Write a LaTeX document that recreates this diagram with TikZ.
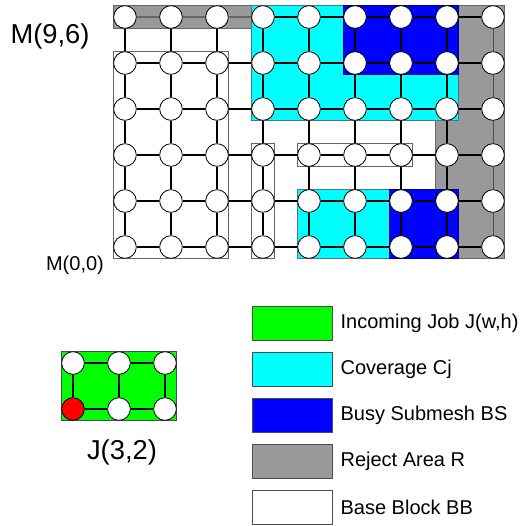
\documentclass[tikz,border=0pt]{standalone}
\usepackage{fontspec}
\setmainfont{Liberation Sans}
\usetikzlibrary{positioning}

\definecolor{rejectgray}{HTML}{999999}
\definecolor{covcyan}{HTML}{00FFFF}
\definecolor{busyblue}{HTML}{0000FF}
\definecolor{jobgreen}{HTML}{00FF00}

\begin{document}
\begin{tikzpicture}[x=34.5pt,y=34.5pt,
    pe/.style={circle,draw,fill=white,minimum size=17pt,inner sep=0pt,line width=0.6pt},
    link/.style={line width=1.9pt},
    area/.style={line width=0.6pt},
    legbox/.style={draw=black!70,line width=0.6pt,minimum width=60pt,minimum height=25.5pt,inner sep=0pt},
    legtext/.style={font=\fontsize{15}{18}\selectfont,inner sep=0pt}]

   \useasboundingbox (-2.717,-6.065) rectangle (8.652,5.370);

   % reject area R
   \filldraw[fill=rejectgray,draw=black!60,area] (6.75,-0.25) rectangle (8.25,5.25);
   \filldraw[fill=rejectgray,draw=black!60,area] (-0.25,4.75) rectangle (2.75,5.25);
   % coverage and busy submeshes
   \filldraw[fill=covcyan,draw=cyan!50!black,area] (2.75,2.75) rectangle (7.25,5.25);
   \filldraw[fill=busyblue,draw=blue!50!black,area] (4.75,3.75) rectangle (7.25,5.25);
   \filldraw[fill=covcyan,draw=cyan!50!black,area] (3.75,-0.25) rectangle (7.25,1.25);
   \filldraw[fill=busyblue,draw=blue!50!black,area] (5.75,-0.25) rectangle (7.25,1.25);
   % base blocks
   \filldraw[fill=white,draw=black!60,area] (-0.25,-0.25) rectangle (2.25,4.25);
   \filldraw[fill=white,draw=black!60,area] (2.75,-0.25) rectangle (3.25,2.25);
   \filldraw[fill=white,draw=black!60,area] (3.75,1.75) rectangle (6.25,2.25);

   % the 9x6 mesh
   \foreach \i in {0,...,8}
     \foreach \j in {0,...,5}
       \node[pe] (n-\i-\j) at (\i,\j) {};

   \foreach \i/\k in {0/1,1/2,2/3,3/4,4/5,5/6,6/7,7/8}
     \foreach \j in {0,...,5}
       \draw[link] (n-\i-\j) -- (n-\k-\j);
   \foreach \j/\k in {0/1,1/2,2/3,3/4,4/5}
     \foreach \i in {0,...,7}
       \draw[link] (n-\i-\j) -- (n-\i-\k);
   \foreach \j/\k in {0/1,1/2,2/3,3/4,4/5}
     \draw[line width=0.7pt,black!70] (n-8-\j) -- (n-8-\k);
   % links of the top row lie under the reject area
   \foreach \i/\k in {0/1,1/2,2/3}
     \draw[link,black!60] (n-\i-5) -- (n-\k-5);

   \node[font=\fontsize{20.5}{24}\selectfont] (m96) at (-1.63,4.587) {M(9,6)};
   \node[font=\fontsize{15}{18}\selectfont] (m00) at (-1.087,-0.391) {M(0,0)};

   % incoming job J(3,2)
   \filldraw[fill=jobgreen,draw=black!70,area] (-1.38,-3.77) rectangle (1.12,-2.27);
   \foreach \i/\j/\c in {0/0/red,1/0/white,2/0/white,0/1/white,1/1/white,2/1/white}
     \node[pe,fill=\c] (j-\i-\j) at (\i-1.13,\j-3.522) {};
   \draw[link] (j-0-0) -- (j-1-0) -- (j-2-0);
   \draw[link] (j-0-1) -- (j-1-1) -- (j-2-1);
   \foreach \i in {0,1,2}
     \draw[link] (j-\i-0) -- (j-\i-1);
   \node[font=\fontsize{20.5}{24}\selectfont] (jlabel) at (-0.065,-4.457) {J(3,2)};

   % legend
   \node[legbox,fill=jobgreen] (lg-job) at (3.63,-1.652) {};
   \node[legbox,fill=covcyan] (lg-cov) at (3.63,-2.652) {};
   \node[legbox,fill=busyblue] (lg-busy) at (3.63,-3.652) {};
   \node[legbox,fill=rejectgray] (lg-rej) at (3.63,-4.652) {};
   \node[legbox,fill=white] (lg-bb) at (3.63,-5.652) {};

   \node[legtext,right=6pt of lg-job] (lt-job) {Incoming Job J(w,h)};
   \node[legtext,right=6pt of lg-cov] (lt-cov) {Coverage Cj};
   \node[legtext,right=6pt of lg-busy] (lt-busy) {Busy Submesh BS};
   \node[legtext,right=6pt of lg-rej] (lt-rej) {Reject Area R};
   \node[legtext,right=6pt of lg-bb] (lt-bb) {Base Block BB};
\end{tikzpicture}
\end{document}
